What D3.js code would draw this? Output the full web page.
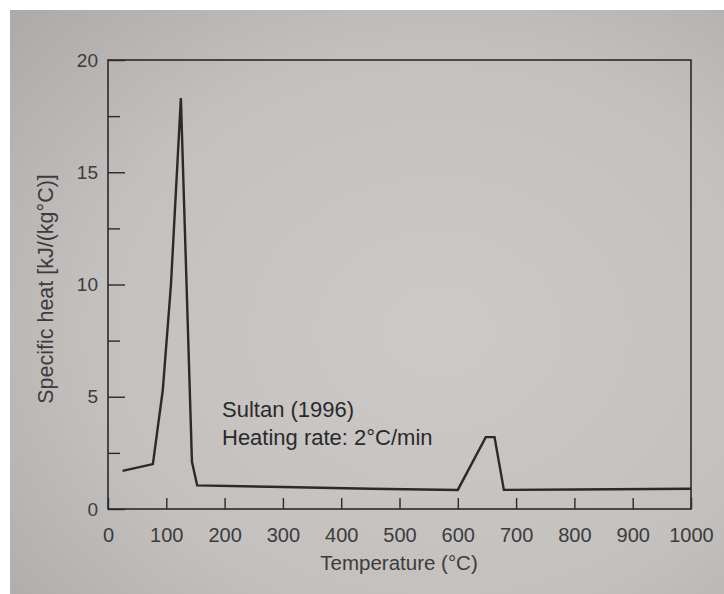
<!DOCTYPE html>
<html>
<head>
<meta charset="utf-8">
<script src="https://cdn.jsdelivr.net/npm/d3@7"></script>
<style>
  html, body { margin: 0; padding: 0; background: #ffffff; }
  svg { display: block; }
  text { font-family: "Liberation Sans", Arial, Helvetica, sans-serif; }
</style>
</head>
<body>
<svg id="chart" width="724" height="594"></svg>
<script>
// Specific heat of concrete vs temperature (Sultan 1996, heating rate 2 °C/min)
const temperature = [25, 77, 94, 108, 125, 144, 153, 300, 450, 600, 648, 663, 679, 800, 1000];
const specificHeat = [1.7, 2.0, 5.3, 10.0, 18.3, 2.1, 1.05, 0.98, 0.9, 0.85, 3.2, 3.2, 0.85, 0.87, 0.9];

const xTicks = [0, 100, 200, 300, 400, 500, 600, 700, 800, 900, 1000];
const yMajorTicks = [0, 5, 10, 15, 20];
const yMinorTicks = [2.5, 7.5, 12.5, 17.5];

const annotationLines = ["Sultan (1996)", "Heating rate: 2\u00B0C/min"];
const xTitle = "Temperature (\u00B0C)";
const yTitle = "Specific heat [kJ/(kg\u00B0C)]";

const svg = d3.select("#chart");
const W = 724, H = 594;
const plot = { left: 108, right: 691, top: 60, bottom: 509 };

// Paper background
const defs = svg.append("defs");
const grad = defs.append("radialGradient")
  .attr("id", "paper").attr("cx", "0.6").attr("cy", "0.55").attr("r", "0.8");
grad.append("stop").attr("offset", "0").attr("stop-color", "#ccc9c7");
grad.append("stop").attr("offset", "0.6").attr("stop-color", "#c3c0be");
grad.append("stop").attr("offset", "1").attr("stop-color", "#aeaaa9");
svg.append("rect").attr("x", 0).attr("y", 0).attr("width", W).attr("height", H).attr("fill", "#ffffff");
svg.append("rect").attr("x", 10).attr("y", 10).attr("width", W - 10).attr("height", H - 10).attr("fill", "url(#paper)");

const x = d3.scaleLinear().domain([0, 1000]).range([plot.left, plot.right]);
const y = d3.scaleLinear().domain([0, 20]).range([plot.bottom, plot.top]);

const ink = "#2a2a2c";
const labelInk = "#3c3c3e";

// Frame
svg.append("rect")
  .attr("x", plot.left).attr("y", plot.top)
  .attr("width", plot.right - plot.left).attr("height", plot.bottom - plot.top)
  .attr("fill", "none").attr("stroke", ink).attr("stroke-width", 1.6);

// Bottom axis: inward ticks, labels below
const xAxis = d3.axisBottom(x).tickValues(xTicks).tickSize(-11).tickPadding(19).tickFormat(d3.format("d"));
const gx = svg.append("g").attr("transform", `translate(0,${plot.bottom})`).call(xAxis);
gx.select(".domain").remove();
gx.selectAll(".tick line").attr("stroke", ink).attr("stroke-width", 1.4);
gx.selectAll(".tick text").attr("fill", labelInk).attr("font-size", 20).attr("dy", "0.71em")
  .attr("font-family", "'Liberation Sans', Arial, sans-serif");

// Left axis: major ticks with labels, minor ticks shorter
const yAxis = d3.axisLeft(y).tickValues(yMajorTicks).tickSize(-17).tickPadding(10).tickFormat(d3.format("d"));
const gy = svg.append("g").attr("transform", `translate(${plot.left},0)`).call(yAxis);
gy.select(".domain").remove();
gy.selectAll(".tick line").attr("stroke", ink).attr("stroke-width", 1.4);
gy.selectAll(".tick text").attr("fill", labelInk).attr("font-size", 19)
  .attr("font-family", "'Liberation Sans', Arial, sans-serif");

const yMinor = d3.axisLeft(y).tickValues(yMinorTicks).tickSize(-12).tickFormat("");
const gym = svg.append("g").attr("transform", `translate(${plot.left},0)`).call(yMinor);
gym.select(".domain").remove();
gym.selectAll(".tick line").attr("stroke", ink).attr("stroke-width", 1.4);

// Curve
const points = temperature.map((t, i) => [t, specificHeat[i]]);
const line = d3.line().x(d => x(d[0])).y(d => y(d[1]));
svg.append("path").datum(points)
  .attr("d", line)
  .attr("fill", "none").attr("stroke", ink).attr("stroke-width", 2.4)
  .attr("stroke-linejoin", "miter");

// Annotation
const ann = svg.append("text").attr("x", 222).attr("y", 417)
  .attr("fill", "#2a2a2c").attr("font-size", 22);
annotationLines.forEach((s, i) => {
  ann.append("tspan").attr("x", 222).attr("dy", i === 0 ? 0 : 28).text(s);
});

// Axis titles
svg.append("text").attr("x", 399).attr("y", 570).attr("text-anchor", "middle")
  .attr("fill", labelInk).attr("font-size", 20.5).text(xTitle);
svg.append("text")
  .attr("transform", `translate(53,289) rotate(-90)`)
  .attr("text-anchor", "middle").attr("fill", labelInk).attr("font-size", 21.5).text(yTitle);
</script>
</body>
</html>
